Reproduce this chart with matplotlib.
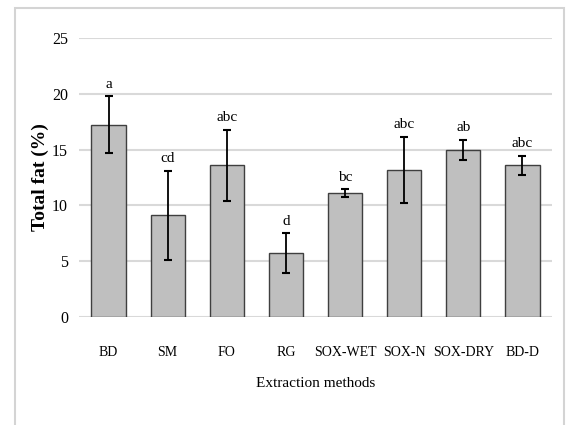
import matplotlib
matplotlib.use("Agg")
import matplotlib.pyplot as plt
from matplotlib.patches import Rectangle

methods = ["BD", "SM", "FO", "RG", "SOX-WET", "SOX-N", "SOX-DRY", "BD-D"]
fat = [17.25, 9.1, 13.6, 5.7, 11.1, 13.2, 15.0, 13.6]
err = [2.55, 4.0, 3.2, 1.8, 0.35, 2.95, 0.9, 0.85]
letters = ["a", "cd", "abc", "d", "bc", "abc", "ab", "abc"]

plt.rcParams["font.family"] = ["Liberation Serif", "DejaVu Serif"]

fig = plt.figure(figsize=(5.68, 4.25), dpi=100)
ax = fig.add_axes([79 / 568, 1 - 316.7 / 425, (552 - 79) / 568, (316.7 - 38.3) / 425])

# chart area border
fig.patches.append(Rectangle((15 / 568, -0.1), (564 - 15) / 568, 1.1 - 8 / 425,
                             transform=fig.transFigure, fill=False,
                             edgecolor="#d4d4d4", lw=1.5))

x = list(range(len(methods)))
ax.bar(x, fat, width=0.58, color="#bfbfbf", edgecolor="#3f3f3f", lw=1, zorder=3)
ax.errorbar(x, fat, yerr=err, fmt="none", ecolor="black", elinewidth=1.3,
            capsize=3, capthick=1.5, zorder=4)
for xi, v, e, lab in zip(x, fat, err, letters):
    ax.annotate(lab, (xi, v + e), xytext=(0, 4), textcoords="offset points",
                ha="center", va="bottom", fontsize=11)

ax.set_xlim(-0.5, 7.5)
ax.set_ylim(0, 25)
ax.set_yticks([0, 5, 10, 15, 20, 25])
ax.grid(axis="y", color="#d9d9d9", lw=1.5, zorder=0)
ax.set_axisbelow(True)
for s in ax.spines.values():
    s.set_visible(False)
ax.tick_params(length=0, labelsize=11.5)
ax.tick_params(axis="x", pad=21, labelsize=10)
ax.tick_params(axis="y", pad=8)
ax.set_xticks(x)
ax.set_xticklabels(methods)
ax.set_xlabel("Extraction methods", fontsize=11, labelpad=13)
ax.set_ylabel("Total fat (%)", fontsize=14, fontweight="bold", labelpad=2)

fig.savefig("out.png", dpi=100)
